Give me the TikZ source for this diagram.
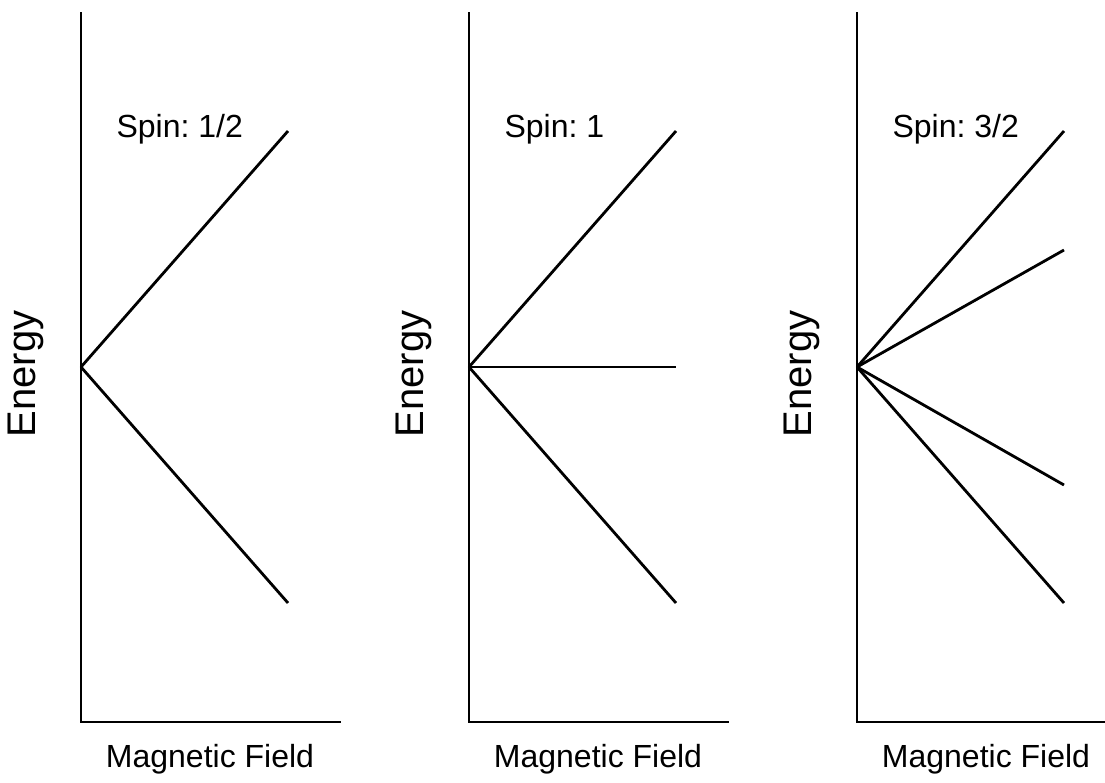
\documentclass[tikz,border=0pt]{standalone}
\usepackage{fontspec}
\setmainfont{Liberation Sans}
\usetikzlibrary{arrows.meta}
\frenchspacing

\newcommand{\labelsize}{\fontsize{32}{38}\selectfont}
\newcommand{\energysize}{\fontsize{40}{48}\selectfont}

\begin{document}
\begin{tikzpicture}[x=1pt, y=-1pt, axis/.style={line width=2.2pt}, level/.style={line width=2.8pt}]
    \useasboundingbox (0,0) rectangle (1105,782);
    \foreach \n/\ox/\spin/\ends in {a/81/{1/2}/{131,603}, b/469/{1}/{131,367,603}, c/857/{3/2}/{131,250,485,603}}
    {
        \coordinate (top\n) at (\ox,12);
        \coordinate (bot\n) at (\ox,722);
        \coordinate (right\n) at (\ox+260,722);
        \coordinate (o\n) at (\ox,367);
        \draw[axis] (top\n) -- (bot\n) -- (right\n);
        \foreach \y [count=\k] in \ends
        {
            \coordinate (e\n\k) at (\ox+207,\y);
            \draw[level] (o\n) -- (e\n\k);
        }
        \node[anchor=base west, font=\labelsize] (spin\n) at (\ox+32,137) {Spin: \spin};
        \node[rotate=90, anchor=base, font=\energysize] (energy\n) at (\ox-46,374) {Energy};
        \node[font=\labelsize] (field\n) at (\ox+129,759) {Magnetic Field};
    }
\end{tikzpicture}
\end{document}
